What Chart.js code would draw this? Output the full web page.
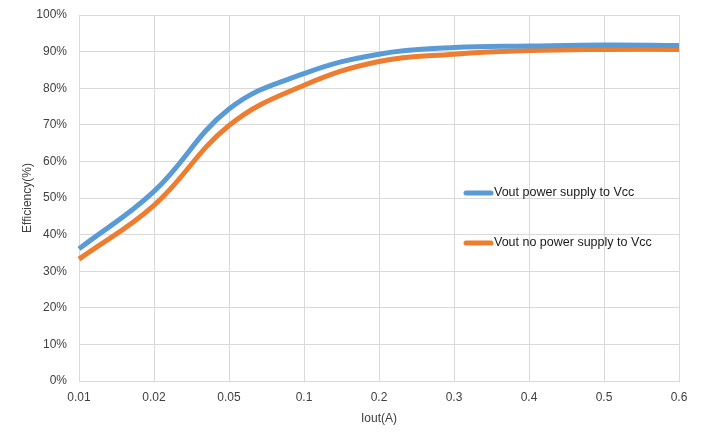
<!DOCTYPE html>
<html>
<head>
<meta charset="utf-8">
<script src="https://cdn.jsdelivr.net/npm/chart.js@4.4.0/dist/chart.umd.min.js"></script>
<style>
  html, body { margin: 0; padding: 0; background: #fff; }
  #wrap { width: 703px; height: 443px; }
</style>
</head>
<body>
<div id="wrap"><canvas id="effChart" width="703" height="443"></canvas></div>
<script>
// Iout(A) categories, evenly spaced like the original sheet
const currents = ['0.01', '0.02', '0.05', '0.1', '0.2', '0.3', '0.4', '0.5', '0.6'];
// efficiency in %
const withVcc = [36.1, 51.8, 74.3, 84, 89.3, 91.1, 91.5, 91.8, 91.7];
const withoutVcc = [33.3, 48, 69.8, 80.8, 87.3, 89.3, 90.3, 90.6, 90.6];
const seriesNames = ['Vout power supply to Vcc', 'Vout no power supply to Vcc'];

const blue = '#5B9BD5';
const orange = '#ED7D31';
const FONT = 'Liberation Sans';

// legend drawn inside the plot like the excel one
const insideLegend = {
    id: 'insideLegend',
    afterDraw(chart) {
        const ctx = chart.ctx;
        const rows = [
            { name: seriesNames[0], color: blue, y: 193 },
            { name: seriesNames[1], color: orange, y: 243 }
        ];
        ctx.save();
        rows.forEach(r => {
            ctx.strokeStyle = r.color;
            ctx.lineWidth = 5;
            ctx.lineCap = 'round';
            ctx.beginPath();
            ctx.moveTo(466, r.y);
            ctx.lineTo(491, r.y);
            ctx.stroke();
            ctx.fillStyle = '#1a1a1a';
            ctx.font = '12.5px ' + FONT;
            ctx.textBaseline = 'middle';
            ctx.fillText(r.name, 494, r.y);
        });
        ctx.restore();
    }
};

new Chart(document.getElementById('effChart'), {
    type: 'line',
    data: {
        labels: currents,
        datasets: [{
            label: seriesNames[0],
            data: withVcc,
            borderColor: blue,
            borderWidth: 5,
            pointRadius: 0,
            tension: 0.4,
            fill: false
        }, {
            label: seriesNames[1],
            data: withoutVcc,
            borderColor: orange,
            borderWidth: 5,
            pointRadius: 0,
            tension: 0.4,
            fill: false
        }]
    },
    options: {
        responsive: false,
        animation: false,
        layout: { padding: { top: 15, right: 24, left: 0, bottom: 0 } },
        plugins: {
            legend: { display: false },
            tooltip: { enabled: false }
        },
        scales: {
            x: {
                grid: { color: '#d9d9d9', drawTicks: false },
                border: { color: '#d9d9d9' },
                ticks: { color: '#404040', font: { family: FONT, size: 12 }, padding: 9, maxRotation: 0 },
                title: {
                    display: true, text: 'Iout(A)', color: '#404040',
                    font: { family: FONT, size: 12 }, padding: { top: 4, bottom: 17 }
                },
                afterFit(scale) { scale.height = 62; }
            },
            y: {
                min: 0, max: 100,
                grid: { color: '#d9d9d9', drawTicks: false },
                border: { color: '#d9d9d9' },
                ticks: {
                    stepSize: 10, color: '#404040', padding: 12,
                    font: { family: FONT, size: 12 },
                    callback: v => v + '%'
                },
                title: {
                    display: true, text: 'Efficiency(%)', color: '#404040',
                    font: { family: FONT, size: 12 }, padding: { top: 20, bottom: 0 }
                },
                afterFit(scale) {
                    scale.width = 79;
                    scale.paddingTop = 0;
                    scale.paddingBottom = 0;
                }
            }
        }
    },
    plugins: [insideLegend]
});
</script>
</body>
</html>
